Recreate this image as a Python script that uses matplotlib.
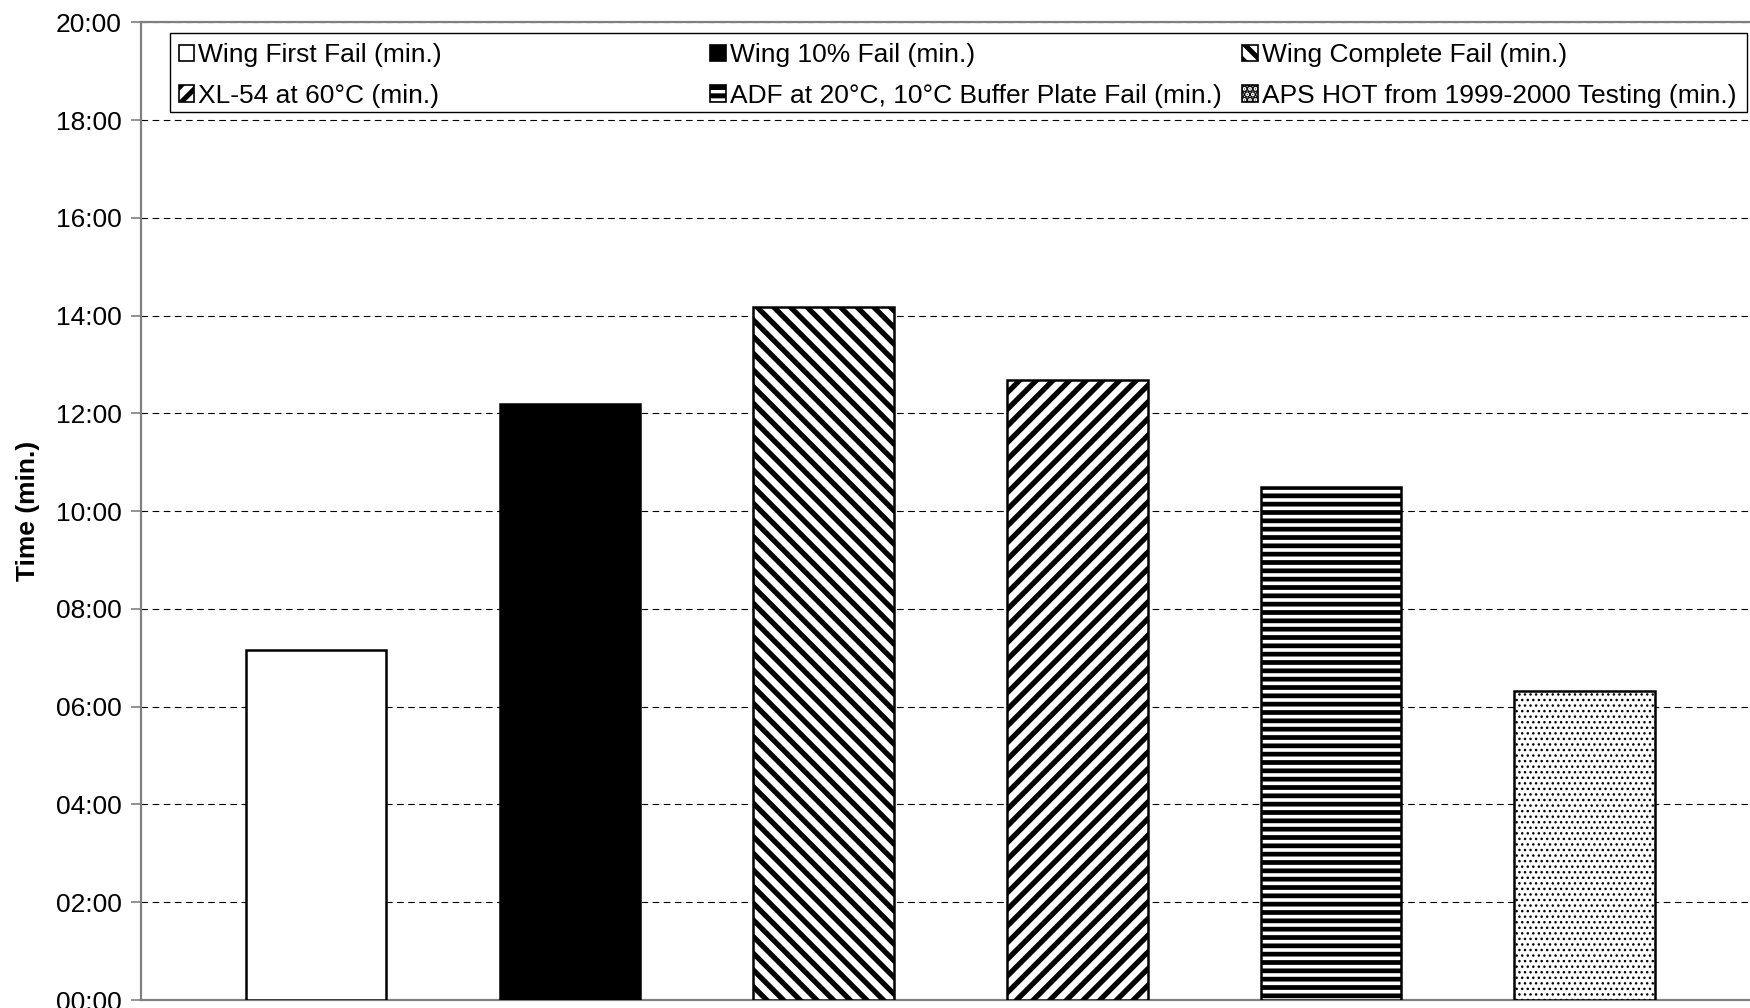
import matplotlib
matplotlib.use("Agg")
import matplotlib.pyplot as plt
from matplotlib.patches import Rectangle
from matplotlib.ticker import FuncFormatter, MultipleLocator

# values, in minutes
labels = [
    "Wing First Fail (min.)",
    "Wing 10% Fail (min.)",
    "Wing Complete Fail (min.)",
    "XL-54 at 60°C (min.)",
    "ADF at 20°C, 10°C Buffer Plate Fail (min.)",
    "APS HOT from 1999-2000 Testing (min.)",
]
minutes = [7.17, 12.2, 14.18, 12.68, 10.5, 6.33]
fills = ["white", "black", "white", "white", "white", "white"]
hatches = [None, None, "\\\\", "//", "--", "..."]
hatch_widths = [1.0, 1.0, 3.8, 3.8, 3.4, 1.0]

plt.rcParams["font.family"] = ["Liberation Sans", "DejaVu Sans"]
plt.rcParams["font.size"] = 19
plt.rcParams["hatch.linewidth"] = 3.6

fig = plt.figure(figsize=(17.5, 10.08), dpi=100)
ax = fig.add_axes([0.0806, 0.0079, 0.925, 0.970])

x = list(range(len(minutes)))
bars = ax.bar(x, minutes, width=0.554, color=fills, edgecolor="black",
              linewidth=1.8, zorder=3)
for bar, h, w in zip(bars, hatches, hatch_widths):
    if h:
        bar.set_hatch(h)
    if hasattr(bar, "set_hatch_linewidth"):
        bar.set_hatch_linewidth(w)

ax.set_xlim(-0.69, 5.69)
ax.set_ylim(0, 20)
ax.yaxis.set_major_locator(MultipleLocator(2))


def mmss(v, pos):
    m = int(v)
    s = int(round((v - m) * 60))
    return f"{m:02d}:{s:02d}"


ax.yaxis.set_major_formatter(FuncFormatter(mmss))
ax.set_xticks([])
ax.tick_params(axis="y", length=7, width=1.2, color="#808080", pad=7)

ax.grid(axis="y", color="black", linestyle=(0, (6, 4)), linewidth=0.8, zorder=0)
ax.set_axisbelow(True)

for side in ["left", "bottom", "top"]:
    ax.spines[side].set_color("#808080")
    ax.spines[side].set_linewidth(1.6)
ax.spines["right"].set_visible(False)

ax.set_ylabel("Time (min.)", fontweight="bold")
ax.yaxis.set_label_coords(-0.0625, 0.5)

# legend laid out like the Excel one: 3 columns of 2 rows
col_x = [0.102, 0.4057, 0.7097]
for c in range(3):
    hs = [bars[c], bars[c + 3]]
    ls = [labels[c], labels[c + 3]]
    leg = fig.legend(hs, ls, loc="upper left", bbox_to_anchor=(col_x[c], 0.957),
                     frameon=False, borderpad=0, borderaxespad=0,
                     handlelength=0.6, handleheight=0.6, handletextpad=0.15,
                     labelspacing=0.62)
    for p in leg.get_patches():
        p.set_linewidth(1.2)

fig.patches.append(Rectangle((0.0971, 0.8893), 0.9012, 0.0775,
                             transform=fig.transFigure, fill=False,
                             edgecolor="black", linewidth=1.0, zorder=5))

fig.savefig("out.png", dpi=100)
